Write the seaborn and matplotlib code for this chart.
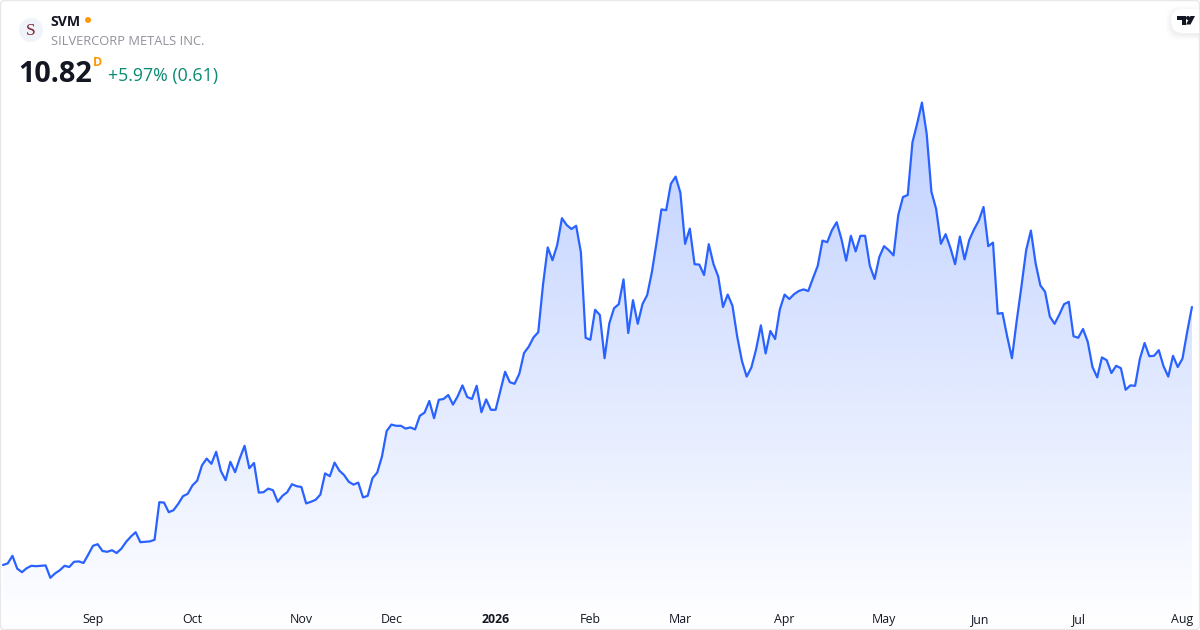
import numpy as np
import pandas as pd
import matplotlib
matplotlib.use("Agg")
import matplotlib.pyplot as plt
from matplotlib.patches import Circle, FancyBboxPatch, Polygon, Rectangle
import seaborn as sns

# daily closes
close = [
    4.37, 4.41, 4.60, 4.28, 4.19, 4.29, 4.35, 4.34, 4.35, 4.36, 4.05, 4.16, 4.24, 4.35, 4.32, 4.45, 4.46, 4.42, 4.63, 4.85,
    4.89, 4.72, 4.70, 4.74, 4.67, 4.78, 4.95, 5.08, 5.19, 4.94, 4.95, 4.96, 5.00, 5.94, 5.93, 5.69, 5.74, 5.90, 6.09, 6.15,
    6.36, 6.48, 6.86, 7.03, 6.90, 7.20, 6.72, 6.49, 6.95, 6.69, 7.04, 7.35, 6.79, 6.92, 6.18, 6.19, 6.28, 6.24, 5.95, 6.10,
    6.19, 6.39, 6.34, 6.32, 5.91, 5.95, 6.00, 6.13, 6.66, 6.59, 6.93, 6.73, 6.62, 6.45, 6.38, 6.43, 6.06, 6.10, 6.54, 6.68,
    7.08, 7.72, 7.88, 7.85, 7.85, 7.78, 7.81, 7.76, 8.10, 8.18, 8.47, 8.04, 8.50, 8.52, 8.62, 8.38, 8.59, 8.86, 8.57, 8.52,
    8.85, 8.19, 8.51, 8.25, 8.25, 8.73, 9.20, 8.94, 8.90, 9.15, 9.67, 9.83, 10.06, 10.19, 11.37, 12.31, 11.99, 12.37, 13.04, 12.87,
    12.77, 12.85, 12.19, 10.05, 10.00, 10.75, 10.62, 9.54, 10.41, 10.79, 10.89, 11.51, 10.17, 10.99, 10.40, 10.89, 11.12, 11.70, 12.45, 13.26,
    13.24, 13.90, 14.08, 13.68, 12.40, 12.78, 11.89, 11.88, 11.62, 12.39, 11.89, 11.58, 10.82, 11.13, 10.85, 10.08, 9.47, 9.08, 9.31, 9.77,
    10.36, 9.66, 10.22, 10.02, 10.76, 11.13, 11.02, 11.14, 11.22, 11.26, 11.22, 11.54, 11.85, 12.48, 12.44, 12.74, 12.94, 12.52, 11.98, 12.60,
    12.21, 12.60, 12.60, 11.85, 11.52, 12.07, 12.34, 12.24, 12.11, 13.12, 13.57, 13.62, 14.94, 15.41, 15.93, 15.15, 13.70, 13.27, 12.40, 12.64,
    12.30, 11.89, 12.58, 12.01, 12.50, 12.76, 12.98, 13.32, 12.34, 12.43, 10.65, 10.67, 10.08, 9.54, 10.47, 11.33, 12.24, 12.73, 11.91, 11.36,
    11.20, 10.58, 10.40, 10.63, 10.89, 10.95, 10.09, 10.05, 10.27, 9.95, 9.32, 9.06, 9.56, 9.49, 9.17, 9.35, 9.29, 8.75, 8.86, 8.85,
    9.52, 9.92, 9.59, 9.60, 9.74, 9.34, 9.08, 9.60, 9.32, 9.53, 10.20, 10.82,
]
tick_days = [19, 40, 63, 82, 104, 124, 143, 165, 186, 206, 227, 249]
tick_labels = ["Sep", "Oct", "Nov", "Dec", "2026", "Feb", "Mar", "Apr", "May", "Jun", "Jul", "Aug"]

ticker = "SVM"
company = "SILVERCORP METALS INC."
last_price = "10.82"
change = "+5.97% (0.61)"

df = pd.DataFrame({"day": np.arange(len(close)), "close": close})

sns.set_theme(style="white")
plt.rcParams["font.family"] = ["Open Sans", "DejaVu Sans"]

fig = plt.figure(figsize=(12, 6.3), dpi=100, facecolor="white")
ax = fig.add_axes([0, 0, 1, 1])

# gradient under the line, fades out towards the bottom
y_top, y_bottom = 18.495, 2.745
grad = np.zeros((256, 2, 4))
grad[..., :3] = matplotlib.colors.to_rgb("#2962ff")
grad[..., 3] = np.linspace(0.36, 0.0, 256)[:, None]
im = ax.imshow(grad, extent=(0, len(close) - 1, y_bottom, y_top), aspect="auto", origin="upper", zorder=1)
poly = ax.fill_between(df["day"], df["close"], y_bottom, color="none", linewidth=0)
im.set_clip_path(poly.get_paths()[0], transform=ax.transData)

sns.lineplot(data=df, x="day", y="close", color="#2962ff", linewidth=1.6, ax=ax, zorder=3)

ax.set_xlim(-0.63, 252.7)
ax.set_ylim(y_bottom, y_top)
ax.set_xlabel("")
ax.set_ylabel("")
ax.set_yticks([])
ax.set_xticks(tick_days)
ax.set_xticklabels(tick_labels, fontsize=8.9, color="#131722")
ax.tick_params(axis="x", length=0, pad=-12.5)
ax.get_xticklabels()[4].set_fontweight("bold")
sns.despine(ax=ax, left=True, bottom=True)

# header and logos are placed in pixels
over = fig.add_axes([0, 0, 1, 1], facecolor="none")
over.set_xlim(0, 1200)
over.set_ylim(630, 0)
over.axis("off")

over.add_patch(FancyBboxPatch((0.5, 0.5), 1199, 629, boxstyle="round,pad=0,rounding_size=4",
                              fc="none", ec="#e8e8ea", lw=1))
over.add_patch(Circle((31, 30), 12, fc="#f0f3fa", ec="none"))
over.text(31, 31, "S", family="Liberation Serif", fontsize=12.5, color="#7d2430", ha="center", va="center")
over.text(50.5, 22, ticker, fontsize=10.2, fontweight="bold", color="#131722", va="center")
over.add_patch(Circle((88, 20), 3, fc="#ff9800", ec="none"))
over.text(51, 41.5, company, fontsize=9.3, color="#8f929b", va="center")
over.text(18, 75, last_price, fontsize=20.8, fontweight="bold", color="#131722", va="center")
over.text(93, 62, "D", fontsize=9, fontweight="bold", color="#ff9800", va="center")
over.text(108, 76, change, fontsize=12.8, color="#0b8a73", va="center")

# tradingview badge with a soft shadow
right_edge = Rectangle((0, 0), 1199, 630, transform=over.transData)
for pad, a in ((5, 0.006), (4, 0.008), (3, 0.01), (2, 0.012), (1, 0.015)):
    s = FancyBboxPatch((1171 - pad, 11 - pad), 40 + 2 * pad, 24 + 2 * pad, boxstyle="round,pad=0,rounding_size=12",
                       fc="black", alpha=a, ec="none")
    over.add_patch(s)
    s.set_clip_path(right_edge)
badge = FancyBboxPatch((1171, 9), 40, 24, boxstyle="round,pad=0,rounding_size=12", fc="white", ec="none")
over.add_patch(badge)
badge.set_clip_path(right_edge)
over.add_patch(Polygon([(1177, 16), (1185.5, 16), (1185.5, 24.5), (1181.5, 24.5), (1181.5, 20), (1177, 20)], fc="#131722", ec="none"))
over.add_patch(Circle((1188, 18), 2, fc="#131722", ec="none"))
over.add_patch(Polygon([(1190.5, 16), (1195, 16), (1190.5, 24.5), (1186, 24.5)], fc="#131722", ec="none"))

fig.savefig("out.png", dpi=100)
